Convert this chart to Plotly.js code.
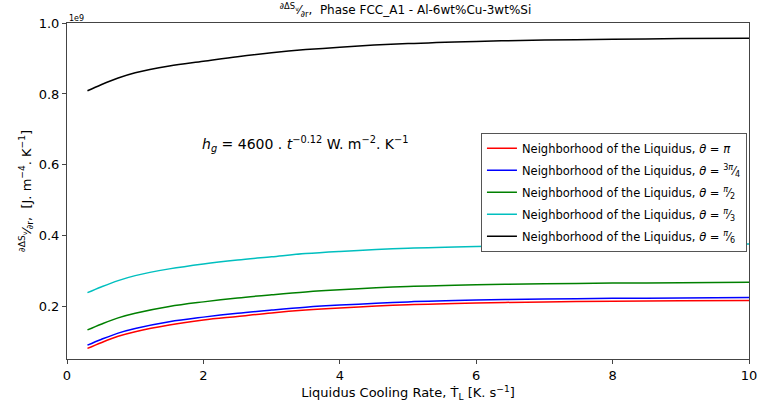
<!DOCTYPE html>
<html>
<head>
<meta charset="utf-8">
<script src="https://cdn.plot.ly/plotly-3.0.1.min.js"></script>
<style>html,body{margin:0;padding:0;background:#fff;}#chart{width:758px;height:407px;}</style>
</head>
<body>
<div id="chart"></div>
<script>
// Liquidus cooling rate [K/s]
const coolingRate = [0.3, 0.5, 0.75, 1.0, 1.5, 2.0, 2.5, 3.0, 3.5, 4.0, 5.0, 6.0, 7.0, 8.0, 9.0, 10.0];
// dΔSv/dr values (x1e9)
const thetaPi      = [0.083, 0.099, 0.117, 0.130, 0.149, 0.163, 0.173, 0.183, 0.191, 0.197, 0.206, 0.211, 0.214, 0.216, 0.217, 0.218];
const theta3Pi4    = [0.092, 0.108, 0.126, 0.139, 0.158, 0.171, 0.182, 0.191, 0.199, 0.205, 0.214, 0.219, 0.222, 0.224, 0.225, 0.226];
const thetaPi2     = [0.135, 0.151, 0.169, 0.182, 0.201, 0.214, 0.225, 0.234, 0.242, 0.248, 0.257, 0.262, 0.265, 0.267, 0.268, 0.269];
const thetaPi3     = [0.240, 0.256, 0.274, 0.288, 0.307, 0.321, 0.332, 0.341, 0.350, 0.356, 0.365, 0.370, 0.373, 0.375, 0.376, 0.377];
const thetaPi6     = [0.809, 0.826, 0.845, 0.860, 0.879, 0.892, 0.905, 0.916, 0.925, 0.932, 0.942, 0.948, 0.952, 0.954, 0.956, 0.957];
const xTicks = [0, 2, 4, 6, 8, 10];
const yTicks = [0.2, 0.4, 0.6, 0.8, 1.0];

const base = 'Neighborhood of the Liquidus, <i>θ</i> = ';
const series = [
  {y: thetaPi,   color: '#ff0000', label: base + '<i>π</i>'},
  {y: theta3Pi4, color: '#0000ff', label: base + '<sup>3<i>π</i></sup>⁄<sub>4</sub>'},
  {y: thetaPi2,  color: '#008000', label: base + '<sup><i>π</i></sup>⁄<sub>2</sub>'},
  {y: thetaPi3,  color: '#00bfbf', label: base + '<sup><i>π</i></sup>⁄<sub>3</sub>'},
  {y: thetaPi6,  color: '#000000', label: base + '<sup><i>π</i></sup>⁄<sub>6</sub>'}
];
const traces = series.map((s, i) => ({
  x: coolingRate, y: s.y, type: 'scatter', mode: 'lines', name: s.label, legendgroup: 'g' + i,
  line: {color: s.color, width: 1.5, shape: 'spline', smoothing: 1}
}));

const axisCommon = {
  showline: true, mirror: true, linecolor: '#444', linewidth: 1,
  ticks: 'outside', ticklen: 4, tickcolor: '#444', showgrid: false, zeroline: false,
  tickfont: {family: 'DejaVu Sans', size: 13, color: '#000'}
};

const layout = {
  width: 758, height: 407,
  margin: {l: 67, r: 9, t: 23, b: 48, autoexpand: false},
  paper_bgcolor: '#fff', plot_bgcolor: '#fff',
  font: {family: 'DejaVu Sans', color: '#000'},
  title: {
    text: '<sup>∂ΔS<sub>v</sub></sup>⁄<sub>∂r</sub>,  Phase FCC_A1 - Al-6wt%Cu-3wt%Si',
    font: {family: 'DejaVu Sans', size: 12, color: '#000'},
    x: 0.535, xanchor: 'center', y: 0.975, yanchor: 'middle'
  },
  xaxis: Object.assign({}, axisCommon, {
    range: [0, 10], tickvals: xTicks, ticktext: xTicks.map(String),
    title: {text: 'Liquidus Cooling Rate, Ṫ<sub>L</sub> [K. s<sup>−1</sup>]', font: {family: 'DejaVu Sans', size: 13}, standoff: 6}
  }),
  yaxis: Object.assign({}, axisCommon, {
    range: [0.053, 1.0], tickvals: yTicks, ticktext: yTicks.map(v => v.toFixed(1)),
    title: {text: '<sup>∂ΔS<sub>v</sub></sup>⁄<sub>∂r</sub>,  [J. m<sup>−4</sup>. K<sup>−1</sup>]', font: {family: 'DejaVu Sans', size: 13}, standoff: 4}
  }),
  legend: {
    x: 0.997, y: 0.673, xanchor: 'right', yanchor: 'top',
    bgcolor: '#fff', bordercolor: '#555', borderwidth: 1, tracegroupgap: 3,
    font: {family: 'DejaVu Sans', size: 11.5, color: '#000'}
  },
  showlegend: true,
  annotations: [
    {x: 0, y: 1, xref: 'paper', yref: 'paper', xanchor: 'left', yanchor: 'bottom', showarrow: false,
     text: '1e9', font: {family: 'DejaVu Sans', size: 8, color: '#000'}, yshift: -2},
    {x: 1.95, y: 0.66, xref: 'x', yref: 'y', xanchor: 'left', yanchor: 'middle', showarrow: false,
     text: '<i>h<sub>g</sub></i> = 4600 . <i>t</i><sup>−0.12</sup> W. m<sup>−2</sup>. K<sup>−1</sup>',
     font: {family: 'DejaVu Sans', size: 14, color: '#000'}}
  ]
};

Plotly.newPlot('chart', traces, layout, {displayModeBar: false, staticPlot: true});
</script>
</body>
</html>
